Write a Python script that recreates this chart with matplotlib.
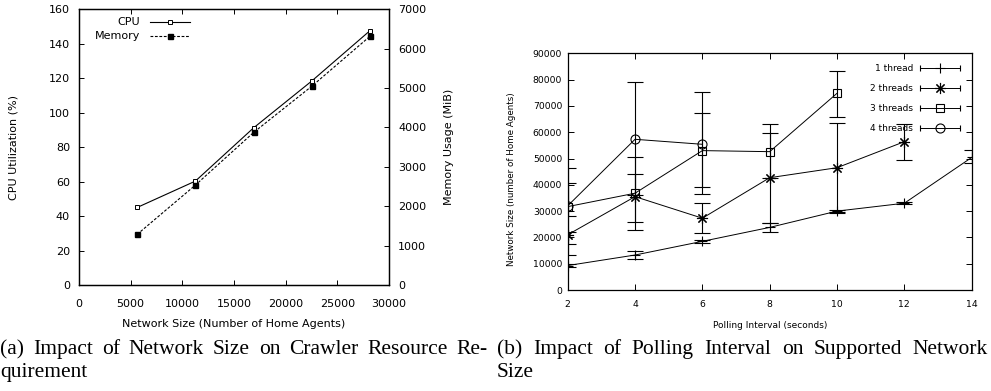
import matplotlib
matplotlib.use("Agg")
import matplotlib.pyplot as plt
from matplotlib.lines import Line2D

# ---------------- data: (a) resource requirement ----------------
net_sizes = [5632, 11264, 16896, 22528, 28160]
cpu_util = [45.0, 60.3, 91.2, 118.4, 147.6]
mem_usage = [1286, 2536, 3873, 5047, 6315]

# ---------------- data: (b) polling interval ----------------
x1 = [2, 4, 6, 8, 10, 12, 14]
t1 = [9300, 13300, 18500, 23800, 30000, 33000, 50400]
t1_lo = [8600, 11700, 18000, 22200, 29200, 32700, 48200]
t1_hi = [10000, 14800, 19000, 25300, 30400, 33300, 53200]

x2 = [2, 4, 6, 8, 10, 12]
t2 = [21000, 35500, 27300, 42700, 46500, 56400]
t2_lo = [13300, 22800, 21800, 25600, 29500, 49400]
t2_hi = [22200, 44100, 33000, 59800, 63600, 63100]

x3 = [2, 4, 6, 8, 10]
t3 = [31700, 36800, 53000, 52600, 74800]
t3_lo = [28300, 26000, 39300, 42500, 65900]
t3_hi = [40500, 50700, 67400, 63100, 83400]

x4 = [2, 4, 6]
t4 = [32000, 57300, 55400]
t4_lo = [17400, 36000, 36500]
t4_hi = [46500, 79200, 75200]

series_labels = ["1 thread", "2 threads", "3 threads", "4 threads"]
caption_a = ["(a) Impact of Network Size on Crawler Resource Re-", "quirement"]
caption_b = ["(b) Impact of Polling Interval on Supported Network", "Size"]

plt.rcParams['font.family'] = ['DejaVu Sans']

W, H = 991, 391
fig = plt.figure(figsize=(W / 100, H / 100), dpi=100)


def box(l, t, r, b):
    return [l / W, 1 - b / H, (r - l) / W, (b - t) / H]


# ================= (a) =================
axa = fig.add_axes(box(79, 9.3, 389, 285))
axa2 = axa.twinx()
axa.plot(net_sizes, cpu_util, color='k', lw=0.8, marker='s', ms=3.2,
         mfc='white', mec='k', mew=0.7, zorder=3)
axa2.plot(net_sizes, mem_usage, color='k', lw=0.8, ls=(0, (2.5, 1.5)), marker='s',
          ms=3.6, mfc='k', mec='k', zorder=3)
axa.set_xlim(0, 30000)
axa.set_ylim(0, 160)
axa2.set_ylim(0, 7000)
axa.set_xticks(range(0, 30001, 5000))
axa.set_yticks(range(0, 161, 20))
axa2.set_yticks(range(0, 7001, 1000))
for ax in (axa, axa2):
    ax.tick_params(direction='in', length=3.5, width=0.7, labelsize=8,
                   top=True, pad=6.5)
    for s in ax.spines.values():
        s.set_linewidth(0.9)
axa.tick_params(axis='x', pad=10)
axa.tick_params(axis='y', right=False)
axa.set_xlabel("Network Size (Number of Home Agents)", fontsize=8)
axa.xaxis.set_label_coords(0.5, -0.125)
axa.set_ylabel("CPU Utilization (%)", fontsize=8)
axa.yaxis.set_label_coords(-0.195, 0.5)
axa2.set_ylabel("Memory Usage (MiB)", fontsize=8)
axa2.yaxis.set_label_coords(1.177, 0.5)

# key (gnuplot style: text right-justified, then sample)
for ytxt, lab, kw in [(0.955, "CPU", dict(ls='-', mfc='white', ms=3.2, mew=0.7)),
                      (0.903, "Memory", dict(ls=(0, (2.5, 1.5)), mfc='k', ms=3.6))]:
    axa.text(0.197, ytxt, lab, transform=axa.transAxes, ha='right', va='center', fontsize=8)
    axa.add_line(Line2D([0.229, 0.358], [ytxt, ytxt], transform=axa.transAxes, color='k',
                        lw=0.8, ls=kw['ls'], clip_on=False))
    axa.add_line(Line2D([0.294], [ytxt], transform=axa.transAxes, marker='s', ms=kw['ms'],
                        mfc=kw['mfc'], mec='k', mew=kw.get('mew', 1), ls='none', clip_on=False))

# ================= (b) =================
axb = fig.add_axes(box(567.7, 53.3, 971.7, 290))
star = (8, 2, 0)
specs = [
    (x1, t1, t1_lo, t1_hi, dict(marker='+', ms=7, mew=0.8)),
    (x2, t2, t2_lo, t2_hi, dict(marker=star, ms=8, mew=0.8)),
    (x3, t3, t3_lo, t3_hi, dict(marker='s', ms=5.5, mew=0.8, mfc='none')),
    (x4, t4, t4_lo, t4_hi, dict(marker='o', ms=6.5, mew=0.8, mfc='none')),
]
for xs, ys, lo, hi, mk in specs:
    yerr = [[y - l for y, l in zip(ys, lo)], [h - y for y, h in zip(ys, hi)]]
    axb.errorbar(xs, ys, yerr=yerr, color='k', lw=0.7, elinewidth=0.8, capsize=6,
                 capthick=0.8, mec='k', **mk)
axb.set_xlim(2, 14)
axb.set_ylim(0, 90000)
axb.set_xticks(range(2, 15, 2))
axb.set_yticks(range(0, 90001, 10000))
axb.tick_params(direction='in', length=4, width=0.7, labelsize=6.7, top=True, right=True, pad=4)
axb.tick_params(axis='x', pad=7.5)
for s in axb.spines.values():
    s.set_linewidth(0.9)
axb.set_xlabel("Polling Interval (seconds)", fontsize=6.5)
axb.xaxis.set_label_coords(0.5, -0.13)
axb.set_ylabel("Network Size (number of Home Agents)", fontsize=6.3)
axb.yaxis.set_label_coords(-0.128, 0.47)

# key
for ytxt, lab, (_, _, _, _, mk) in zip([0.937, 0.852, 0.768, 0.683], series_labels, specs):
    axb.text(0.855, ytxt, lab, transform=axb.transAxes, ha='right', va='center', fontsize=6.5)
    axb.add_line(Line2D([0.872, 0.971], [ytxt, ytxt], transform=axb.transAxes, color='k',
                        lw=0.7, clip_on=False))
    axb.add_line(Line2D([0.872, 0.971], [ytxt, ytxt], transform=axb.transAxes, color='k',
                        ls='none', marker='|', ms=4, mew=0.8, clip_on=False))
    axb.add_line(Line2D([0.922], [ytxt], transform=axb.transAxes, color='k', ls='none',
                        mec='k', clip_on=False, **mk))

# ================= captions (justified) =================
renderer = fig.canvas.get_renderer()
cap_family = ['Liberation Serif']
col_a = (0, 488)
col_b = (497, 988)


def line_width(s, size):
    t = fig.text(0, 0, s, family=cap_family, fontsize=size)
    w = t.get_window_extent(renderer).width
    t.remove()
    return w


# font size chosen so the first (justified) lines fit their column width
base = 10.0
fit_a = base * (col_a[1] - col_a[0]) / line_width(caption_a[0], base)
fit_b = base * (col_b[1] - col_b[0]) / line_width(caption_b[0], base)
cap_size = min(fit_a * 0.98, fit_b * 0.98, 15.5)


def justified(words_line, x0, x1, ybase, justify=True):
    words = words_line.split(' ')
    texts = [fig.text(0, 1 - ybase / H, w, ha='left', va='baseline',
                      family=cap_family, fontsize=cap_size) for w in words]
    widths = [t.get_window_extent(renderer).width for t in texts]
    if justify and len(words) > 1:
        gap = (x1 - x0 - sum(widths)) / (len(words) - 1)
    else:
        gap = 5
    x = x0
    for t, w in zip(texts, widths):
        t.set_x(x / W)
        x += w + gap


justified(caption_a[0], *col_a, 354)
justified(caption_a[1], *col_a, 377, justify=False)
justified(caption_b[0], *col_b, 354)
justified(caption_b[1], *col_b, 377, justify=False)

fig.savefig("out.png", dpi=100)
